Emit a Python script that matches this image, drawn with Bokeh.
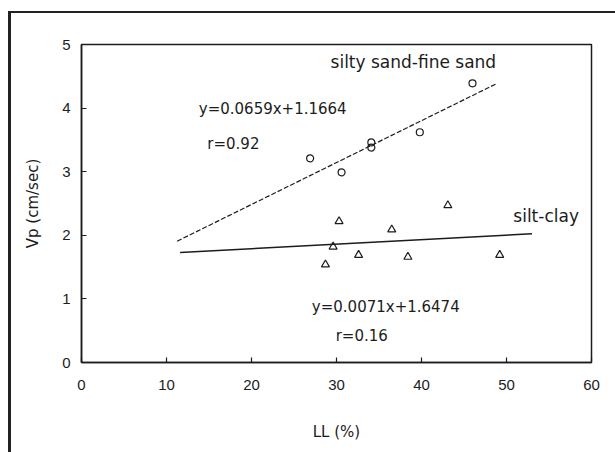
from bokeh.plotting import figure
from bokeh.models import ColumnDataSource, Range1d, FixedTicker
from bokeh.core.properties import value
from bokeh.embed import file_html
from bokeh.resources import INLINE

# --- data ---
sand_ll = [26.9, 30.6, 34.1, 34.1, 39.8, 46.0]
sand_vp = [3.21, 2.99, 3.46, 3.38, 3.62, 4.39]

clay_ll = [30.3, 43.1, 36.5, 29.6, 32.6, 28.7, 38.4, 49.2]
clay_vp = [2.22, 2.47, 2.09, 1.82, 1.69, 1.54, 1.66, 1.69]

# fitted lines printed on the chart
sand_slope, sand_icpt = 0.0659, 1.1664
clay_slope, clay_icpt = 0.0071, 1.6474
sand_fit_x = [11.25, 48.9]
clay_fit_x = [11.6, 53.0]

x_ticks = [0, 10, 20, 30, 40, 50, 60]
y_ticks = [0, 1, 2, 3, 4, 5]

labels_text = ["silty sand-fine sand", "silt-clay"]
eq_text = ["y=0.0659x+1.1664", "r=0.92", "y=0.0071x+1.6474", "r=0.16"]

INK = "#1c1c1c"

p = figure(width=615, height=452, output_backend="svg", toolbar_location=None,
           x_range=Range1d(0, 60), y_range=Range1d(0, 5),
           min_border_left=81, min_border_right=24, min_border_top=44, min_border_bottom=90)
p.styles = {
    "background": ("linear-gradient(#222,#222) 8px 11px / 3px calc(100% - 11px) no-repeat, "
                   "linear-gradient(#222,#222) 8px 11px / calc(100% - 8px) 2px no-repeat, white"),
}
p.background_fill_color = "white"
p.border_fill_alpha = 0
p.outline_line_color = INK
p.outline_line_width = 1.5
p.grid.visible = False

for ax in (p.xaxis[0], p.yaxis[0]):
    ax.axis_line_color = INK
    ax.axis_line_width = 1.5
    ax.major_tick_in = 5
    ax.major_tick_out = 0
    ax.major_tick_line_color = INK
    ax.major_tick_line_width = 1.2
    ax.minor_tick_line_color = None
    ax.major_label_text_font = "Liberation Sans"
    ax.major_label_text_font_size = "15px"
    ax.major_label_text_color = INK
    ax.axis_label_text_font = "DejaVu Sans"
    ax.axis_label_text_font_size = "15px"
    ax.axis_label_text_font_style = "normal"
    ax.axis_label_text_color = INK

p.xaxis.ticker = FixedTicker(ticks=x_ticks)
p.yaxis.ticker = FixedTicker(ticks=y_ticks)
p.xaxis.axis_label = "LL (%)"
p.yaxis.axis_label = "Vp (cm/sec)"
p.xaxis.major_label_standoff = 17
p.yaxis.major_label_standoff = 11
p.xaxis.axis_label_standoff = 30
p.yaxis.axis_label_standoff = 17

# fitted lines
p.line(sand_fit_x, [sand_slope * x + sand_icpt for x in sand_fit_x],
       line_color=INK, line_width=1.2, line_dash="5 2")
p.line(clay_fit_x, [clay_slope * x + clay_icpt for x in clay_fit_x],
       line_color=INK, line_width=1.6)

# points
p.scatter(sand_ll, sand_vp, marker="circle", size=7, fill_color=None,
          line_color=INK, line_width=1.2)
p.scatter(clay_ll, clay_vp, marker="triangle", size=8, fill_color=None,
          line_color=INK, line_width=1.2)

# annotations
src_big = ColumnDataSource(dict(x=[29.3, 50.8], y=[4.72, 2.30], t=labels_text))
p.text(x="x", y="y", text="t", source=src_big, text_font=value("DejaVu Sans"),
       text_font_size="17px", text_color=INK, text_align="left", text_baseline="middle")

src_eq = ColumnDataSource(dict(x=[13.8, 14.8, 27.1, 29.9], y=[3.98, 3.43, 0.865, 0.42], t=eq_text))
p.text(x="x", y="y", text="t", source=src_eq, text_font=value("DejaVu Sans"),
       text_font_size="15px", text_color=INK, text_align="left", text_baseline="middle")

open("out.html", "w").write(file_html(p, INLINE))
